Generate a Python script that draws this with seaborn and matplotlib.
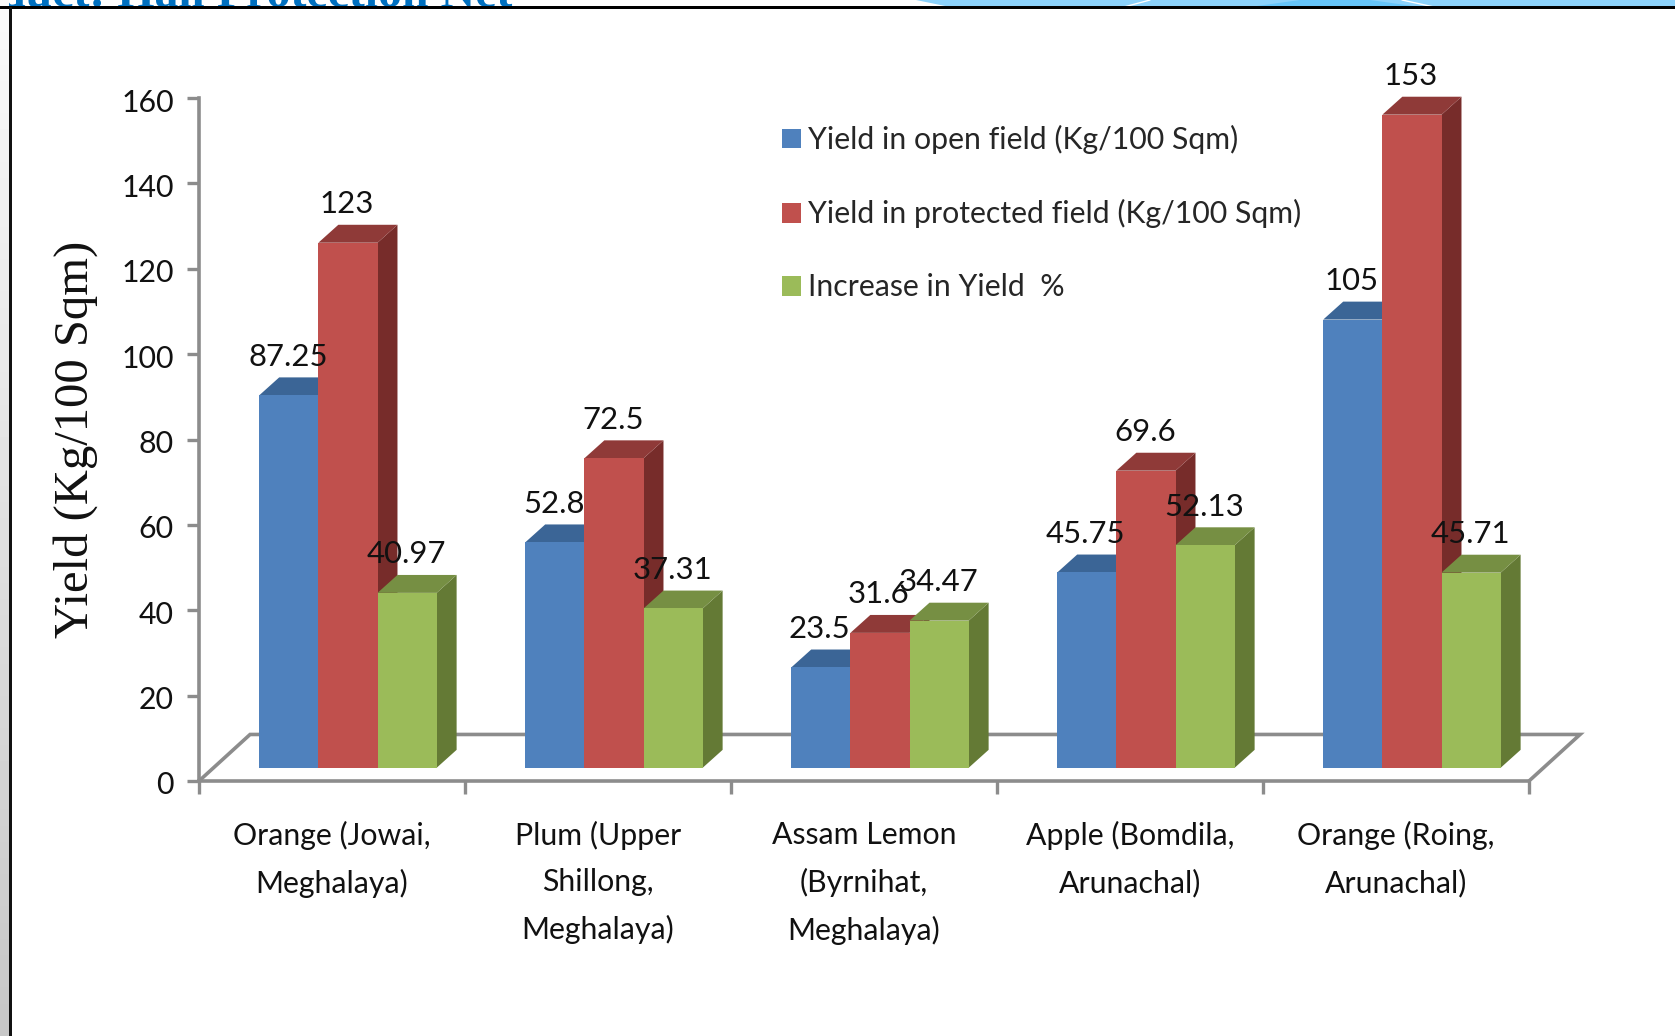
import numpy as np
import pandas as pd
import matplotlib
matplotlib.use("Agg")
import matplotlib.pyplot as plt
from matplotlib.patches import Polygon, Rectangle
from matplotlib.transforms import ScaledTranslation
import seaborn as sns

categories = ["Orange (Jowai,\nMeghalaya)", "Plum (Upper\nShillong,\nMeghalaya)",
              "Assam Lemon\n(Byrnihat,\nMeghalaya)", "Apple (Bomdila,\nArunachal)",
              "Orange (Roing,\nArunachal)"]
open_field = [87.25, 52.8, 23.5, 45.75, 105]
protected_field = [123, 72.5, 31.6, 69.6, 153]
increase = [40.97, 37.31, 34.47, 52.13, 45.71]
series_names = ["Yield in open field (Kg/100 Sqm)", "Yield in protected field (Kg/100 Sqm)", "Increase in Yield  %"]
front_colors = ["#4F81BD", "#C0504D", "#9BBB59"]
top_colors = ["#3B6596", "#8F3A38", "#768F43"]
side_colors = ["#2F5078", "#772C2A", "#647A35"]
y_ticks = [0, 20, 40, 60, 80, 100, 120, 140, 160]

W, H = 1675, 1036
sns.set_theme(style="white")
plt.rcParams["font.family"] = ["Lato", "DejaVu Sans"]
FS = 21.8

fig = plt.figure(figsize=(W / 100, H / 100), dpi=100, facecolor="white")
x0, x1, y0, y1 = 199, 1529, 781, 98
ax = fig.add_axes([x0 / W, 1 - y0 / H, (x1 - x0) / W, (y0 - y1) / H])
ax.set_facecolor("none")

df = pd.DataFrame({
    "cat": categories * 3,
    "series": [s for s in series_names for _ in categories],
    "value": open_field + protected_field + increase,
})
BASE, DX, DY, SHIFT = 3.1, 0.075, 4.2, 0.060
sns.barplot(data=df, x="cat", y="value", hue="series", order=categories, hue_order=series_names,
            palette=front_colors, saturation=1, width=0.667, gap=0, errorbar=None,
            linewidth=0, ax=ax, clip_on=False)

ax.set_xlim(-0.5, 4.5)
ax.set_ylim(0, 160)

all_values = [open_field, protected_field, increase]
patches = list(ax.patches)
n = len(categories)
for h in range(3):
    for c in range(n):
        p = patches[h * n + c]
        p.set_x(p.get_x() + SHIFT)
        p.set_y(BASE)
        z = 3 + h
        p.set_zorder(z + 0.1)
        l, w = p.get_x(), p.get_width()
        b, t = p.get_y(), p.get_y() + p.get_height()
        ax.add_patch(Polygon([(l + w, b), (l + w + DX, b + DY), (l + w + DX, t + DY), (l + w, t)],
                             closed=True, fc=side_colors[h], ec="none", zorder=z, clip_on=False))
        ax.add_patch(Polygon([(l, t), (l + DX, t + DY), (l + w + DX, t + DY), (l + w, t)],
                             closed=True, fc=top_colors[h], ec="none", zorder=z, clip_on=False))
        ax.text(l + w / 2 - 0.004, t + 9.0, str(all_values[h][c]), ha="center", va="center",
                fontsize=22.4, color="#111111", zorder=10, clip_on=False)

# floor and axes
GREY = "#8C8C8C"
FD, FH = 0.192, 10.9
ax.plot([-0.5, -0.5 + FD, 4.5 + FD, 4.5], [0, FH, FH, 0], color=GREY, lw=2.6, zorder=1,
        clip_on=False, solid_joinstyle="miter")
for side in ["top", "right"]:
    ax.spines[side].set_visible(False)
for side in ["left", "bottom"]:
    ax.spines[side].set_color(GREY)
    ax.spines[side].set_linewidth(2.6)
ax.set_yticks(y_ticks)
ax.set_yticklabels([str(v) for v in y_ticks])
ax.set_xticks(np.arange(n + 1) - 0.5)
ax.set_xticklabels([""] * (n + 1))
ax.set_xticks(np.arange(n), labels=categories, minor=True)
ax.tick_params(axis="y", which="major", length=9, width=2.4, color=GREY, pad=9,
               left=True, labelsize=FS, labelcolor="#111111")
ax.tick_params(axis="x", which="major", length=9, width=2.4, color=GREY, bottom=True)
ax.tick_params(axis="x", which="minor", length=0, pad=29, labelsize=FS, labelcolor="#111111")
for lab in ax.get_xticklabels(minor=True):
    lab.set_linespacing(1.78)
for lab in ax.get_yticklabels():
    lab.set_transform(lab.get_transform() + ScaledTranslation(0, -2 / 100, fig.dpi_scale_trans))
ax.set_xlabel("")
ax.set_ylabel("")
fig.text(76 / W, 1 - 439 / H, "Yield (Kg/100 Sqm)", rotation=90, ha="center", va="center",
         family="Liberation Serif", fontsize=35, color="#111111")

# legend
handles, labels = ax.get_legend_handles_labels()
ax.legend(handles, labels, loc="upper left", bbox_to_anchor=(782 / W, 1 - 125 / H),
          bbox_transform=fig.transFigure, frameon=False, fontsize=FS, handlelength=0.63, handleheight=0.63,
          handletextpad=0.22, labelspacing=1.49, borderpad=0, borderaxespad=0)

# slide remnants around the chart
fig.add_artist(Polygon([(916 / W, 1), (950 / W, 1 - 7 / H), (1675 / W, 1 - 7 / H), (1675 / W, 1)],
                       closed=True, transform=fig.transFigure, fc="#8CD2FB", ec="none", zorder=5))
fig.add_artist(Polygon([(1250 / W, 1 - 7 / H), (1300 / W, 1), (1370 / W, 1), (1420 / W, 1 - 7 / H)],
                       closed=True, transform=fig.transFigure, fc="#66C5FA", ec="none", zorder=5))
for xa, xb in [(1124, 1150), (1434, 1402)]:
    fig.add_artist(plt.Line2D([xa / W, xb / W], [1 - 7 / H, 1], transform=fig.transFigure,
                              color="white", lw=1, zorder=6))
fig.text(-1 / W, 1 - 7 / H, "duct: Hail Protection Net", family="Liberation Serif", weight="bold",
         fontsize=34.5, color="#0070C0", ha="left", va="baseline", zorder=4)
strip = fig.add_axes([0, 0, 9 / W, 1], zorder=6)
strip.imshow(np.linspace(0.98, 0.78, 64)[:, None], cmap="gray", vmin=0, vmax=1, aspect="auto")
strip.axis("off")
fig.add_artist(Rectangle((0, 1 - 8.5 / H), 1, 2.2 / H, transform=fig.transFigure, fc="black", ec="none", zorder=7))
fig.add_artist(Rectangle((8.5 / W, 0), 3.2 / W, 1 - 7 / H, transform=fig.transFigure, fc="#111111", ec="none", zorder=7))

fig.savefig("out.png", dpi=100)
